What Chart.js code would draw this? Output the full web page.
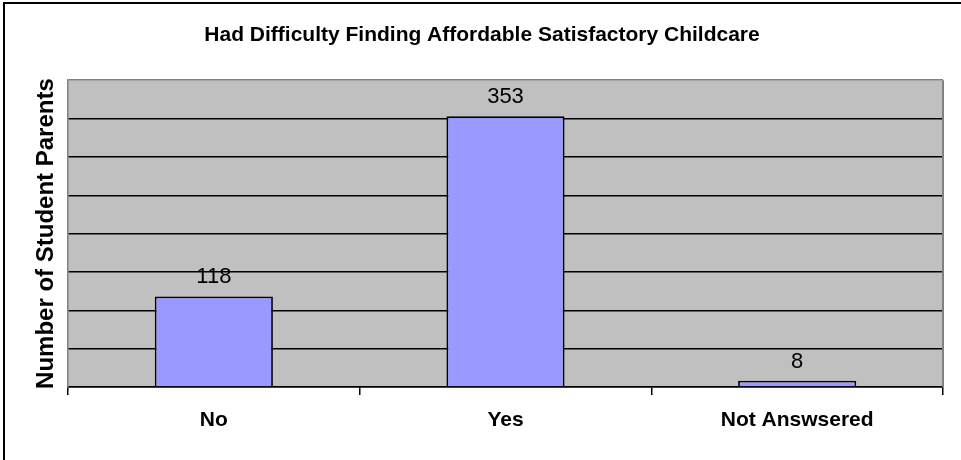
<!DOCTYPE html>
<html>
<head>
<meta charset="utf-8">
<script src="https://cdn.jsdelivr.net/npm/chart.js@4.4.1/dist/chart.umd.min.js"></script>
<style>
  html, body { margin: 0; padding: 0; background: #fff; }
  #wrap { width: 961px; height: 460px; position: relative; }
</style>
</head>
<body>
<div id="wrap"><canvas id="c" width="961" height="460"></canvas></div>
<script>
const chartTitle = 'Had Difficulty Finding Affordable Satisfactory Childcare';
const yAxisTitle = 'Number of Student Parents';
const categories = ['No', 'Yes', 'Not Answsered'];
const counts = [118, 353, 8];
const yMin = 0;
const yMax = 400;
const yStep = 50;

const FONT = '"Liberation Sans", Arial, Helvetica, sans-serif';

const framePlugin = {
  id: 'frame',
  beforeDraw(chart) {
    const ctx = chart.ctx;
    const a = chart.chartArea;
    ctx.save();
    ctx.fillStyle = '#ffffff';
    ctx.fillRect(0, 0, chart.width, chart.height);
    ctx.strokeStyle = '#000000';
    ctx.lineWidth = 2;
    ctx.beginPath();
    ctx.moveTo(4, chart.height + 2);
    ctx.lineTo(4, 3);
    ctx.lineTo(chart.width + 2, 3);
    ctx.stroke();
    ctx.fillStyle = '#C0C0C0';
    ctx.fillRect(a.left, a.top, a.right - a.left, a.bottom - a.top);
    ctx.restore();
  },
  beforeDatasetsDraw(chart) {
    const ctx = chart.ctx;
    const a = chart.chartArea;
    ctx.save();
    ctx.strokeStyle = '#808080';
    ctx.lineWidth = 2;
    ctx.beginPath();
    ctx.moveTo(a.right, a.bottom);
    ctx.lineTo(a.right, a.top);
    ctx.stroke();
    ctx.restore();
  }
};

const valueLabels = {
  id: 'valueLabels',
  afterDatasetsDraw(chart) {
    const ctx = chart.ctx;
    const meta = chart.getDatasetMeta(0);
    ctx.save();
    ctx.font = '22px ' + FONT;
    ctx.fillStyle = '#000000';
    ctx.textAlign = 'center';
    ctx.textBaseline = 'alphabetic';
    meta.data.forEach((bar, i) => {
      ctx.fillText(String(counts[i]), bar.x, bar.y - 13);
    });
    ctx.restore();
  }
};

new Chart(document.getElementById('c'), {
  type: 'bar',
  data: {
    labels: categories,
    datasets: [{
      data: counts,
      backgroundColor: '#9999FF',
      borderColor: '#000000',
      borderWidth: 1.75,
      barPercentage: 0.405,
      categoryPercentage: 1.0
    }]
  },
  options: {
    responsive: false,
    animation: false,
    layout: { padding: { left: 21, right: 18, top: 0, bottom: 0 } },
    plugins: {
      legend: { display: false },
      tooltip: { enabled: false },
      title: {
        display: true,
        text: chartTitle,
        color: '#000000',
        font: { family: FONT, size: 21, weight: 'bold', lineHeight: 1.2 },
        padding: { top: 23, bottom: 32 }
      }
    },
    scales: {
      x: {
        grid: {
          display: true,
          drawOnChartArea: false,
          drawTicks: true,
          tickLength: 8,
          color: '#000000',
          lineWidth: 1.5,
          offset: true
        },
        border: { display: true, color: '#000000', width: 1.5 },
        ticks: {
          color: '#000000',
          padding: 13,
          maxRotation: 0,
          font: { family: FONT, size: 21, weight: 'bold', lineHeight: 1.2 }
        },
        afterFit(scale) { scale.height = 73; }
      },
      y: {
        min: yMin,
        max: yMax,
        ticks: { stepSize: yStep, display: false },
        grid: {
          drawTicks: false,
          lineWidth: 1.5,
          color: (c) => (c.tick && c.tick.value === yMax) ? '#808080' : '#000000'
        },
        border: { display: true, color: '#808080', width: 1.5 },
        title: {
          display: true,
          text: yAxisTitle,
          color: '#000000',
          font: { family: FONT, size: 24, weight: 'bold', lineHeight: 1.2 },
          padding: { top: 11, bottom: 0 }
        },
        afterFit(scale) { scale.width = 47; }
      }
    }
  },
  plugins: [framePlugin, valueLabels]
});
</script>
</body>
</html>
